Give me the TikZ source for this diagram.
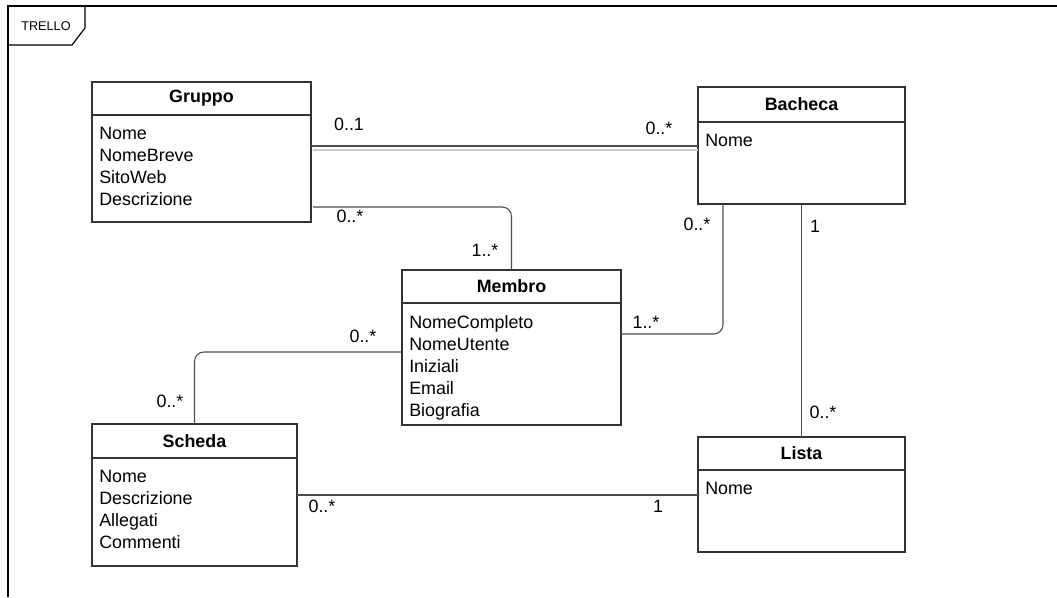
\documentclass[tikz,border=0pt]{standalone}
\usepackage{fontspec}
\setmainfont{Liberation Sans}
\definecolor{umlline}{HTML}{333333}
\definecolor{linkgray}{HTML}{4D4D4D}
\definecolor{shadowgray}{HTML}{CCCCCC}

\begin{document}
\begin{tikzpicture}[x=0.75pt, y=-0.75pt, font=\fontsize{13.4}{16.5}\selectfont,
  classbox/.style={draw=umlline, line width=1pt, inner sep=0pt, outer sep=0pt, anchor=north west},
  classname/.style={classbox, font=\fontsize{13.4}{16.5}\selectfont\bfseries},
  attrs/.style={anchor=north west, inner sep=0pt, align=left},
  assoc/.style={draw=linkgray, line width=0.8pt},
  mult/.style={inner sep=0pt}]
	\useasboundingbox (0,0) rectangle (1057,597);

	% --- Cornice ---
	\draw[line width=1.1pt] (8,597) |- (1057,6);
	\draw[line width=0.9pt] (8,45) -- (72,45) -- (85,28) -- (85,6);
	\node[font=\fontsize{9.5}{11}\selectfont] (trello) at (46,26) {TRELLO};

	% --- Classi ---
	\node[classname, minimum width=164.25pt, minimum height=24.75pt] (gruppo-t) at (92,82) {Gruppo};
	\node[classbox, minimum width=164.25pt, minimum height=80.25pt] (gruppo-b) at (gruppo-t.south west) {};
	\node[attrs] (gruppo-a) at ([shift={(7,12)}]gruppo-b.north west) {Nome\\NomeBreve\\SitoWeb\\Descrizione};

	\node[classname, minimum width=155.25pt, minimum height=26.25pt] (bacheca-t) at (698,87) {Bacheca};
	\node[classbox, minimum width=155.25pt, minimum height=61.5pt] (bacheca-b) at (bacheca-t.south west) {};
	\node[attrs] (bacheca-a) at ([shift={(7,12)}]bacheca-b.north west) {Nome};

	\node[classname, minimum width=164.25pt, minimum height=24.75pt] (membro-t) at (402,270) {Membro};
	\node[classbox, minimum width=164.25pt, minimum height=91.5pt] (membro-b) at (membro-t.south west) {};
	\node[attrs] (membro-a) at ([shift={(7,12)}]membro-b.north west) {NomeCompleto\\NomeUtente\\Iniziali\\Email\\Biografia};

	\node[classname, minimum width=153.75pt, minimum height=25.5pt] (scheda-t) at (92,424) {Scheda};
	\node[classbox, minimum width=153.75pt, minimum height=81pt] (scheda-b) at (scheda-t.south west) {};
	\node[attrs] (scheda-a) at ([shift={(7,12)}]scheda-b.north west) {Nome\\Descrizione\\Allegati\\Commenti};

	\node[classname, minimum width=155.25pt, minimum height=24.75pt] (lista-t) at (698,437) {Lista};
	\node[classbox, minimum width=155.25pt, minimum height=61.5pt] (lista-b) at (lista-t.south west) {};
	\node[attrs] (lista-a) at ([shift={(7,12)}]lista-b.north west) {Nome};

	% --- Associazioni ---
	\coordinate (gb) at ([shift={(0,31)}]gruppo-b.north east);
	\coordinate (gb2) at ([shift={(2,4)}]gb);
	\draw[shadowgray, line width=0.8pt] (gb2) -- (gb2 -| bacheca-b.west);
	\draw[assoc] (gb) -- (gb -| bacheca-b.west);
	\draw[assoc, rounded corners=7pt] ([shift={(2,-15)}]gruppo-b.south east) -| (membro-t.north);
	\draw[assoc, rounded corners=7pt] ([shift={(25,0)}]bacheca-b.south west) |- ([shift={(0,31)}]membro-b.north east);
	\draw[assoc] (bacheca-b.south) -- (lista-t.north);
	\draw[assoc, rounded corners=7pt] ([shift={(0,49)}]membro-b.north west) -| (scheda-t.north);
	\coordinate (sl) at ([shift={(0,37)}]scheda-b.north east);
	\draw[assoc] (sl) -- (sl -| lista-b.west);

	% --- Molteplicita ---
	\node[mult] (m-gb1) at (349,124) {0..1};
	\node[mult] (m-gb2) at (659,128) {0..*};
	\node[mult] (m-gm1) at (350,216) {0..*};
	\node[mult] (m-gm2) at (485,250) {1..*};
	\node[mult] (m-bm1) at (697,224) {0..*};
	\node[mult] (m-bm2) at (646,322) {1..*};
	\node[mult] (m-ms1) at (363,336) {0..*};
	\node[mult] (m-ms2) at (170,401) {0..*};
	\node[mult] (m-bl1) at (815,226) {1};
	\node[mult] (m-bl2) at (823,412) {0..*};
	\node[mult] (m-sl1) at (322,506) {0..*};
	\node[mult] (m-sl2) at (658,506) {1};
\end{tikzpicture}
\end{document}
